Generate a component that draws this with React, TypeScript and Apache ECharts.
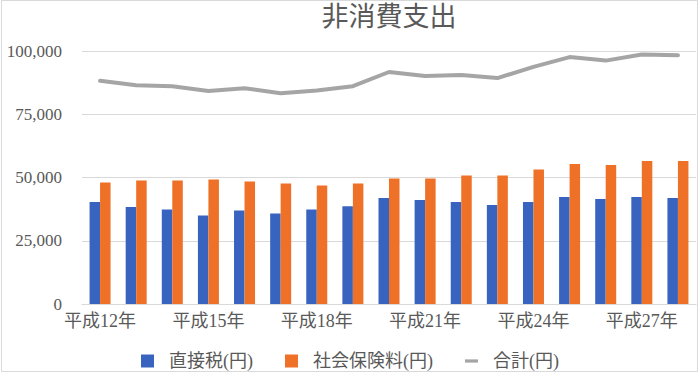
import React, { useEffect, useRef } from "react";
import * as echarts from "echarts";

const categories = [
  "平成12年", "平成13年", "平成14年", "平成15年", "平成16年", "平成17年",
  "平成18年", "平成19年", "平成20年", "平成21年", "平成22年", "平成23年",
  "平成24年", "平成25年", "平成26年", "平成27年", "平成28年",
];
const directTax = [40300, 38300, 37400, 35000, 37000, 35800, 37400, 38600, 41900, 41100, 40300, 39100, 40300, 42300, 41500, 42300, 41900];
const socialInsurance = [48000, 48800, 48800, 49200, 48400, 47600, 46800, 47600, 49600, 49600, 50800, 50800, 53200, 55300, 54900, 56500, 56500];
const total = [88200, 86500, 86100, 84200, 85300, 83300, 84400, 86100, 91700, 90100, 90500, 89300, 93700, 97600, 96200, 98600, 98300];
const seriesNames = ["直接税(円)", "社会保険料(円)", "合計(円)"];
const title = "非消費支出";

const FONT = "'Liberation Serif', 'Noto Sans CJK JP', serif";
const TXT = "#595959";

export default function App() {
  const ref = useRef<HTMLDivElement>(null);
  useEffect(() => {
    document.body.style.margin = "0";
    if (!ref.current) return;
    const chart = echarts.init(ref.current, undefined, { renderer: "svg" });
    chart.setOption({
      animation: false,
      textStyle: { fontFamily: FONT },
      graphic: [
        {
          type: "rect",
          shape: { x: 1.5, y: 0.5, width: 696, height: 371 },
          style: { fill: "none", stroke: "#d9d9d9", lineWidth: 1 },
          silent: true,
          z: -10,
        },
        {
          type: "text",
          x: 389,
          y: 17,
          style: {
            text: title,
            fill: TXT,
            fontSize: 27,
            fontFamily: FONT,
            textAlign: "center",
            textVerticalAlign: "middle",
          },
        },
      ],
      grid: { left: 82, right: 4, top: 51, bottom: 70, containLabel: false },
      legend: {
        top: 351,
        left: "center",
        padding: 0,
        itemWidth: 13,
        itemHeight: 13,
        itemGap: 32,
        textStyle: { fontSize: 18, lineHeight: 20, color: TXT, fontFamily: FONT, padding: [0, 0, 0, 10] },
        data: [
          { name: seriesNames[0], icon: "rect" },
          { name: seriesNames[1], icon: "rect" },
          { name: seriesNames[2], icon: "path://M0,0L12,0L12,3L0,3Z" },
        ],
      },
      xAxis: {
        type: "category",
        data: categories,
        axisTick: { show: false },
        axisLine: { show: true, lineStyle: { color: "#d9d9d9", width: 1 } },
        axisLabel: { interval: 2, fontSize: 18, color: TXT, fontFamily: FONT, margin: 8 },
      },
      yAxis: {
        type: "value",
        min: 0,
        max: 100000,
        interval: 25000,
        axisLine: { show: false },
        axisTick: { show: false },
        splitLine: { lineStyle: { color: "#d9d9d9", width: 1 } },
        axisLabel: {
          fontSize: 17,
          color: TXT,
          fontFamily: FONT,
          margin: 20,
          formatter: (v: number) => v.toLocaleString("en-US"),
        },
      },
      series: [
        {
          name: seriesNames[0],
          type: "bar",
          data: directTax,
          barWidth: 10.5,
          barGap: "0%",
          itemStyle: { color: "#3864c0" },
        },
        {
          name: seriesNames[1],
          type: "bar",
          data: socialInsurance,
          barWidth: 10.5,
          itemStyle: { color: "#ee7127" },
        },
        {
          name: seriesNames[2],
          type: "line",
          data: total,
          symbol: "none",
          showSymbol: false,
          lineStyle: { color: "#a5a5a5", width: 4, cap: "round", join: "round" },
          itemStyle: { color: "#a5a5a5" },
        },
      ],
    });
    return () => chart.dispose();
  }, []);
  return <div ref={ref} style={{ width: 700, height: 374 }} />;
}
